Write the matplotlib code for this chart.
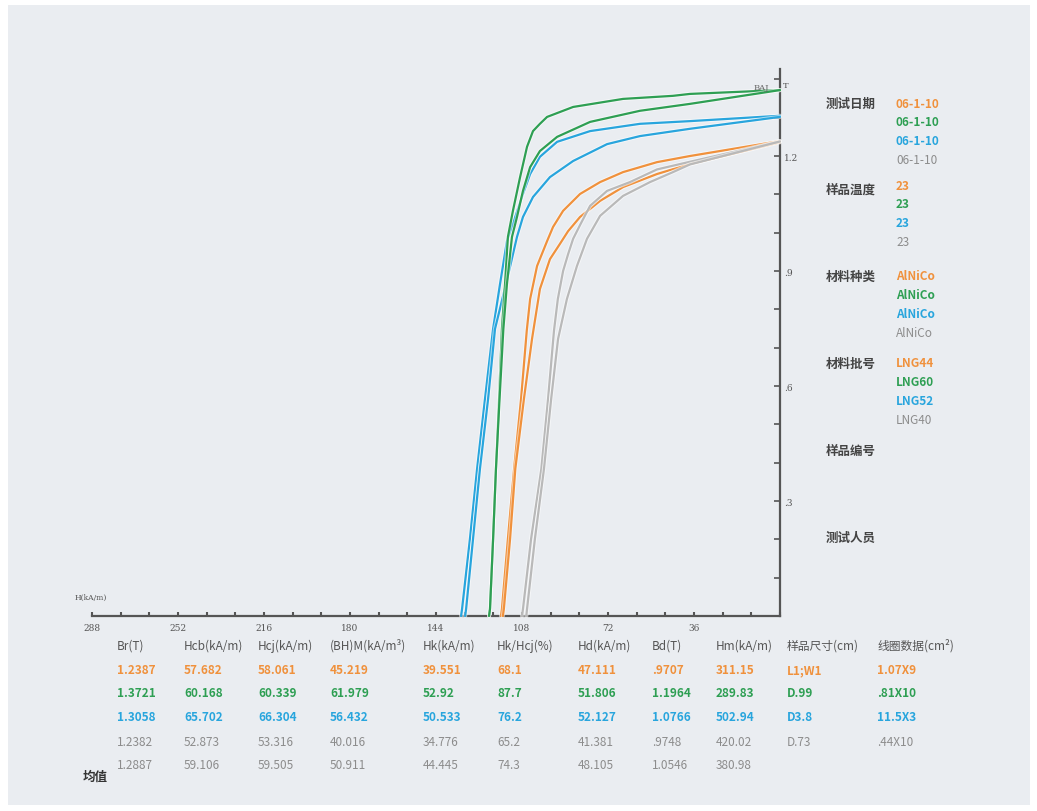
import matplotlib
matplotlib.use("Agg")
import matplotlib.pyplot as plt
import matplotlib.patheffects as pe
from matplotlib.patches import Rectangle

plt.rcParams['font.family'] = ['Noto Sans CJK SC', 'DejaVu Sans']

# ---------------- data ----------------
series_colors = ['#F0913C', '#2E9F53', '#28A5DD', '#B9B9B9']
text_colors = ['#F0913C', '#2E9F53', '#28A5DD', '#8C8C8C']

# demagnetization curves (H in kA/m, B in T): upper and lower curve per sample
orange_up_H = [0, 37.7, 51.5, 65.7, 75.3, 83.7, 90.8, 95.0, 97.5, 101.7, 104.6, 106.0, 108.4, 111.3, 113.9, 116.4, 116.8]
orange_up_B = [1.239, 1.200, 1.184, 1.158, 1.132, 1.101, 1.057, 1.015, 0.978, 0.913, 0.827, 0.745, 0.566, 0.384, 0.201, 0.018, 0.0]
orange_lo_H = [0, 37.7, 51.5, 65.7, 75.3, 83.7, 88.7, 92.1, 96.3, 100.5, 103.8, 107.2, 110.8, 113.0, 115.6, 116.0]
orange_lo_B = [1.236, 1.179, 1.153, 1.119, 1.083, 1.041, 1.004, 0.971, 0.931, 0.853, 0.723, 0.566, 0.384, 0.201, 0.018, 0.0]

green_up_H = [0, 37.7, 44.8, 65.7, 86.6, 97.5, 100.5, 103.4, 105.9, 108.8, 111.8, 113.9, 115.1, 116.4, 117.6, 118.9, 120.1, 121.4, 121.8]
green_up_B = [1.372, 1.362, 1.357, 1.349, 1.328, 1.302, 1.284, 1.265, 1.224, 1.145, 1.057, 0.989, 0.866, 0.749, 0.566, 0.384, 0.201, 0.018, 0.0]
green_lo_H = [0, 37.7, 58.6, 79.5, 93.3, 100.5, 104.6, 107.6, 110.1, 112.2, 114.3, 115.8, 117.4, 118.9, 120.1, 121.4, 121.8]
green_lo_B = [1.372, 1.336, 1.318, 1.289, 1.250, 1.213, 1.171, 1.109, 1.041, 0.989, 0.866, 0.749, 0.566, 0.384, 0.201, 0.018, 0.0]

blue_up_H = [0, 37.7, 58.6, 79.5, 93.3, 100.5, 104.6, 107.6, 111.8, 114.3, 117.2, 120.1, 123.5, 126.8, 129.8, 133.1, 133.5]
blue_up_B = [1.305, 1.291, 1.284, 1.265, 1.237, 1.198, 1.153, 1.101, 1.023, 0.978, 0.866, 0.749, 0.566, 0.384, 0.201, 0.018, 0.0]
blue_lo_H = [0, 37.7, 58.6, 72.4, 86.6, 96.3, 103.4, 107.6, 110.1, 114.7, 119.3, 122.2, 125.6, 128.5, 131.4, 131.8]
blue_lo_B = [1.302, 1.271, 1.252, 1.231, 1.187, 1.145, 1.093, 1.041, 0.989, 0.866, 0.749, 0.566, 0.384, 0.201, 0.018, 0.0]

gray_up_H = [0, 37.7, 51.5, 62.8, 72.4, 79.5, 83.7, 86.6, 88.7, 90.8, 93.0, 94.6, 97.1, 99.9, 104.2, 107.6, 108.0]
gray_up_B = [1.238, 1.185, 1.165, 1.132, 1.109, 1.070, 1.020, 0.984, 0.944, 0.900, 0.827, 0.745, 0.566, 0.384, 0.201, 0.018, 0.0]
gray_lo_H = [0, 37.7, 44.8, 54.4, 65.7, 75.3, 80.8, 85.0, 89.2, 92.9, 95.8, 98.8, 102.6, 105.9, 106.2]
gray_lo_B = [1.238, 1.178, 1.158, 1.132, 1.096, 1.044, 0.984, 0.913, 0.827, 0.723, 0.566, 0.384, 0.201, 0.018, 0.0]

curves = [
    (orange_up_H, orange_up_B, 0), (orange_lo_H, orange_lo_B, 0),
    (gray_up_H, gray_up_B, 3), (gray_lo_H, gray_lo_B, 3),
    (blue_up_H, blue_up_B, 2), (blue_lo_H, blue_lo_B, 2),
    (green_up_H, green_up_B, 1), (green_lo_H, green_lo_B, 1),
]

x_ticks = [288, 252, 216, 180, 144, 108, 72, 36]
x_minor = list(range(0, 289, 12))
y_ticks = [0.3, 0.6, 0.9, 1.2]
y_tick_labels = ['.3', '.6', '.9', '1.2']
y_minor = [i / 10 for i in range(1, 15)]

legend_headers = ['测试日期', '样品温度', '材料种类', '材料批号', '样品编号', '测试人员']
test_dates = ['06-1-10', '06-1-10', '06-1-10', '06-1-10']
sample_temps = ['23', '23', '23', '23']
materials = ['AlNiCo', 'AlNiCo', 'AlNiCo', 'AlNiCo']
batches = ['LNG44', 'LNG60', 'LNG52', 'LNG40']

table_headers = ['Br(T)', 'Hcb(kA/m)', 'Hcj(kA/m)', '(BH)M(kA/m³)', 'Hk(kA/m)', 'Hk/Hcj(%)',
                 'Hd(kA/m)', 'Bd(T)', 'Hm(kA/m)', '样品尺寸(cm)', '线圈数据(cm²)']
row_orange = ['1.2387', '57.682', '58.061', '45.219', '39.551', '68.1', '47.111', '.9707', '311.15', 'L1;W1', '1.07X9']
row_green = ['1.3721', '60.168', '60.339', '61.979', '52.92', '87.7', '51.806', '1.1964', '289.83', 'D.99', '.81X10']
row_blue = ['1.3058', '65.702', '66.304', '56.432', '50.533', '76.2', '52.127', '1.0766', '502.94', 'D3.8', '11.5X3']
row_gray = ['1.2382', '52.873', '53.316', '40.016', '34.776', '65.2', '41.381', '.9748', '420.02', 'D.73', '.44X10']
row_avg = ['1.2887', '59.106', '59.505', '50.911', '44.445', '74.3', '48.105', '1.0546', '380.98', '', '']
avg_label = '均值'

# ---------------- figure ----------------
W, H = 1037, 812
fig = plt.figure(figsize=(W / 100, H / 100), dpi=100)
fig.patch.set_facecolor('white')
fig.patches.append(Rectangle((8 / W, 1 - 806 / H), 1022 / W, 800 / H, transform=fig.transFigure,
                             facecolor='#EAEDF1', edgecolor='none', zorder=-10))


def fx(px):
    return px / W


def fy(py):
    return 1 - py / H


ax = fig.add_axes([fx(92), fy(617), fx(780) - fx(92), fy(70) - fy(617)])
ax.set_zorder(2)
ax.set_facecolor('none')
ax.set_xlim(288, 0)
ax.set_ylim(0, 1.427)

halo = [pe.Stroke(linewidth=3.0, foreground='white', alpha=0.55), pe.Normal()]
for hx, by, ci in curves:
    ax.plot(hx, by, color=series_colors[ci], lw=1.6, solid_capstyle='round', solid_joinstyle='round',
            zorder=3, clip_on=False, path_effects=halo)

for s in ['top', 'left']:
    ax.spines[s].set_visible(False)
for s in ['bottom', 'right']:
    ax.spines[s].set_color('#555555')
    ax.spines[s].set_linewidth(1.6)

ax.yaxis.tick_right()
ax.set_xticks(x_ticks)
ax.set_xticklabels([str(v) for v in x_ticks])
ax.set_xticks(x_minor, minor=True)
ax.set_yticks(y_ticks)
ax.set_yticklabels(y_tick_labels)
ax.set_yticks(y_minor, minor=True)
ax.tick_params(axis='x', which='both', direction='in', length=3, width=1.5, color='#555555',
               labelsize=6.5, labelcolor='#555555', pad=5)
ax.tick_params(axis='y', which='both', direction='in', length=4, width=1.2, color='#555555',
               labelsize=6.5, labelcolor='#555555', pad=3, right=True, left=False)
for lab in ax.get_xticklabels() + ax.get_yticklabels():
    lab.set_family(['DejaVu Serif'])

fig.text(fx(75), fy(598), 'H(kA/m)', fontsize=5.5, color='#555555', va='center', ha='left', family=['DejaVu Serif'])
fig.text(fx(754), fy(88), 'BAJ', fontsize=6, color='#666666', va='center', ha='left', family=['DejaVu Serif'])
fig.text(fx(783), fy(86), 'T', fontsize=6, color='#555555', va='center', ha='left', family=['DejaVu Serif'])

# right-hand info panel
header_y = [104, 190, 277, 364, 451, 538]
for hdr, yy in zip(legend_headers, header_y):
    fig.text(fx(826), fy(yy), hdr, fontsize=9, color='#444444', weight='bold', va='center', ha='left')

groups = [(test_dates, 104), (sample_temps, 186), (materials, 277), (batches, 364)]
for vals, y0 in groups:
    for i, v in enumerate(vals):
        fig.text(fx(896), fy(y0 + i * 18.7), v, fontsize=8.5, color=text_colors[i],
                 weight='bold' if i < 3 else 'normal', va='center', ha='left')

# bottom table
col_x = [117, 184, 258, 330, 423, 497, 578, 652, 716, 787, 877]
for hdr, cx in zip(table_headers, col_x):
    fig.text(fx(cx), fy(646), hdr, fontsize=8.5, color='#555555', va='center', ha='left')

rows = [(row_orange, 0, 671), (row_green, 1, 694), (row_blue, 2, 718), (row_gray, 3, 742), (row_avg, 3, 766)]
for vals, ci, yy in rows:
    for v, cx in zip(vals, col_x):
        if v:
            fig.text(fx(cx), fy(yy), v, fontsize=8.5, color=text_colors[ci],
                     weight='bold' if ci < 3 else 'normal', va='center', ha='left')

fig.text(fx(83), fy(777), avg_label, fontsize=9, color='#333333', weight='bold', va='center', ha='left')

fig.savefig('out.png', dpi=100)
